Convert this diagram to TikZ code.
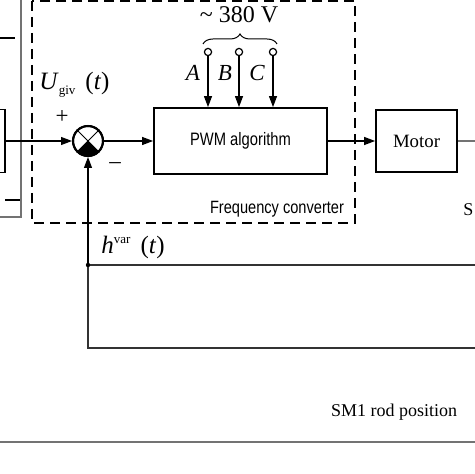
\documentclass[tikz,border=0pt]{standalone}
\usepackage{fontspec}
\setmainfont{Liberation Serif}
\newfontfamily\arialf[FakeStretch=0.82]{Liberation Sans}
\usetikzlibrary{arrows.meta,decorations.pathreplacing}
\begin{document}
\begin{tikzpicture}[x=0.5pt,y=-0.5pt,
  blk/.style={draw, line width=0.9pt, inner sep=0pt},
  sig/.style={line width=0.55pt, -{Triangle[length=5.5pt,width=4pt]}},
  ln/.style={line width=0.55pt},
  gln/.style={line width=0.7pt, draw=black!55},
  term/.style={circle, draw, line width=0.6pt, minimum size=3.6pt, inner sep=0pt},
  lab/.style={inner sep=0pt, font=\fontsize{11.5}{12}\selectfont},
  sans/.style={inner sep=0pt, font=\arialf\fontsize{8.9}{9}\selectfont},
  serif/.style={inner sep=0pt, font=\fontsize{9}{10}\selectfont}]
\useasboundingbox (0,0) rectangle (474,474);

% left partial gray box and block
\draw[gln] (-10,-10) -- (21,-10) -- (21,217) -- (-10,217);
\draw[ln] (-2,38) -- (15,38);
\draw[ln] (5,200) -- (20,200);
\node[blk, minimum width=17.5pt, minimum height=31.5pt] (lb) at (-12.5,141) {};

% frequency converter dashed box
\draw[line width=0.8pt, dash pattern=on 5pt off 3pt] (32,1) rectangle (355,223);
\node[sans] (fc) at (277,209) {Frequency converter};

% summing junction
\node[circle, draw, line width=1pt, minimum size=15pt, inner sep=0pt] (sum) at (88,141) {};
\begin{scope}
  \clip (sum.center) -- ++(-20,20) -- ++(40,0) -- cycle;
  \fill (sum.center) circle[radius=7.5pt];
\end{scope}
\draw[line width=0.4pt] (sum.45) -- (sum.-135);
\draw[line width=0.4pt] (sum.135) -- (sum.-45);
\node[circle, draw, line width=1pt, minimum size=15pt, inner sep=0pt] at (sum.center) {};

\node[lab] (plus) at (62,117) {+};
\node[lab] (minus) at (115,166) {\textendash};
\node[lab, anchor=west, font=\fontsize{12.5}{13}\selectfont] (ugiv) at (39,85)
  {\textit{U}\raisebox{-2.5pt}{\fontsize{6.5}{7}\selectfont giv}\hspace{5pt}(\textit{t})};

% PWM block
\node[blk, minimum width=86.5pt, minimum height=33pt, font=\arialf\fontsize{9}{9}\selectfont] (pwm) at (240.5,141) {PWM algorithm};

% terminals
\node[term] (ta) at (208,52) {};
\node[term] (tb) at (239,52) {};
\node[term] (tc) at (273,52) {};
\draw[sig] (ta.south) -- (ta |- pwm.north);
\draw[sig] (tb.south) -- (tb |- pwm.north);
\draw[sig] (tc.south) -- (tc |- pwm.north);
\node[lab, font=\itshape\fontsize{11.5}{12}\selectfont] (la) at (193,73) {A};
\node[lab, font=\itshape\fontsize{11.5}{12}\selectfont] (lbb) at (225,73) {B};
\node[lab, font=\itshape\fontsize{11.5}{12}\selectfont] (lc) at (257,73) {C};
\draw[line width=0.5pt, decorate, decoration={brace, amplitude=5pt}] (203,44) -- (277,44);
\node[lab, font=\fontsize{12}{12}\selectfont] (v380) at (239,15) {\textasciitilde\ 380 V};

% motor
\node[blk, minimum width=40.5pt, minimum height=31pt, font=\fontsize{9.4}{10}\selectfont] (motor) at (416.5,141) {Motor};
\coordinate (mout) at (480,141);
\draw[gln, line width=0.6pt] (motor.east) -- (mout);
\node[serif, anchor=west] (s) at (463,210) {S};

% signal flow
\draw[sig] (lb.east) -- (sum.west);
\draw[sig] (sum.east) -- (pwm.west);
\draw[sig] (pwm.east) -- (motor.west);

% feedback
\coordinate (j1) at (88,265);
\coordinate (c2) at (88,348);
\coordinate (r1) at (480,265);
\coordinate (r2) at (480,348);
\draw[ln, draw=black!80] (r1) -- (j1);
\draw[ln, draw=black!80] (r2) -- (c2) -- (j1);
\draw[sig] (j1) -- (sum.south);
\fill (j1) circle[radius=1.1pt];
\node[lab, anchor=west, font=\fontsize{12.5}{13}\selectfont] (hvar) at (101,247)
  {\textit{h}\raisebox{5pt}{\fontsize{6.5}{7}\selectfont var}\hspace{5pt}(\textit{t})};

% bottom
\node[serif] (rod) at (394,412) {SM1 rod position};
\coordinate (bl) at (-5,442);
\coordinate (br) at (480,442);
\draw[gln] (bl) -- (br);
\end{tikzpicture}
\end{document}
